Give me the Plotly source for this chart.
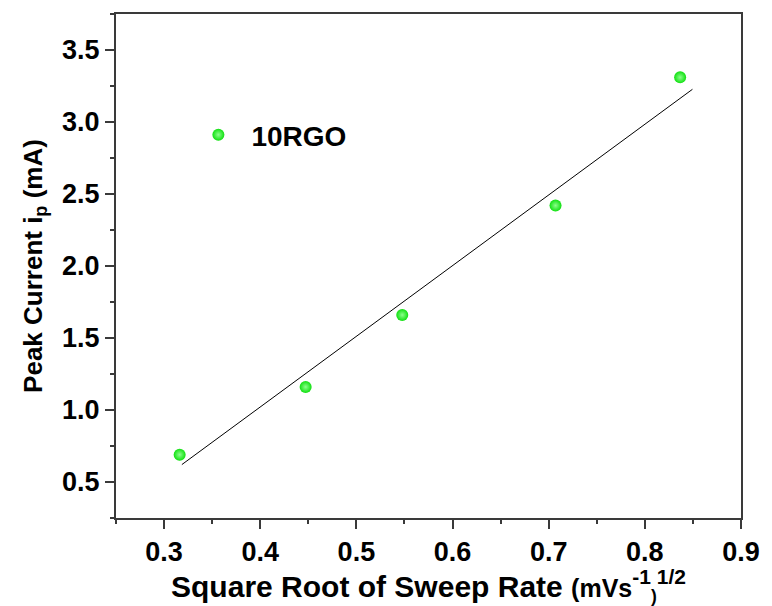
import plotly.graph_objects as go

# Peak current vs square root of sweep rate for the 10RGO electrode
sqrt_rate = [0.3162, 0.4472, 0.5477, 0.7071, 0.8367]
peak_current = [0.69, 1.16, 1.66, 2.42, 3.31]

# Linear fit line endpoints
fit_x = [0.3185, 0.8495]
fit_y = [0.621, 3.227]

FONT = "Liberation Sans, Arial, sans-serif"
AXIS_COLOR = "#3a3a3a"

fig = go.Figure()
fig.add_trace(go.Scatter(
    x=fit_x, y=fit_y, mode="lines",
    line=dict(color="black", width=1),
    showlegend=False, hoverinfo="skip",
))
fig.add_trace(go.Scatter(
    x=sqrt_rate, y=peak_current, mode="markers", name="<b>10RGO</b>",
    marker=dict(color="#10e010", size=12, line=dict(width=0),
                gradient=dict(type="radial", color="#8cff8c")),
))

axis_common = dict(
    showline=True, linecolor=AXIS_COLOR, linewidth=2, mirror=True,
    ticks="outside", tickcolor=AXIS_COLOR, tickwidth=2, ticklen=9,
    showgrid=False, zeroline=False, tickformat=".1f",
    tickfont=dict(family=FONT, size=27, color="black", weight="bold"),
)

fig.update_layout(
    width=772, height=606,
    margin=dict(l=116, r=24, t=13, b=88),
    plot_bgcolor="white", paper_bgcolor="white",
    font=dict(family=FONT, color="black"),
    xaxis=dict(
        range=[0.25, 0.9], dtick=0.1, tick0=0.3,
        minor=dict(dtick=0.05, ticks="outside", ticklen=4, tickcolor=AXIS_COLOR, tickwidth=2),
        title=dict(
            text="<b>Square Root of Sweep Rate <span style='font-size:25px'>(mVs</span>"
                 "<sup>-1</sup><span style='font-size:25px'><sub>)</sub></span><sup>1/2</sup></b>",
            font=dict(family=FONT, size=30), standoff=2,
        ),
        **axis_common,
    ),
    yaxis=dict(
        range=[0.25, 3.75], dtick=0.5, tick0=0.5,
        minor=dict(dtick=0.25, ticks="outside", ticklen=4, tickcolor=AXIS_COLOR, tickwidth=2),
        title=dict(
            text="<b>Peak Current i<sub>p</sub> (mA)</b>",
            font=dict(family=FONT, size=26), standoff=12,
        ),
        **axis_common,
    ),
    legend=dict(
        x=0.111, y=0.76, xanchor="left", yanchor="middle",
        itemwidth=56,
        bgcolor="rgba(0,0,0,0)", borderwidth=0,
        font=dict(family=FONT, size=28, color="black"),
    ),
)

fig.write_html("out.html")
